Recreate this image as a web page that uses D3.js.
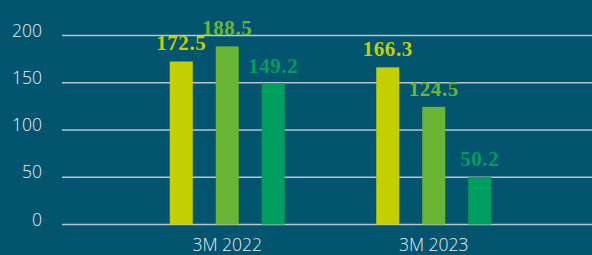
<!DOCTYPE html>
<html>
<head>
<meta charset="utf-8">
<script src="https://cdn.jsdelivr.net/npm/d3@7"></script>
<style>
  html, body { margin: 0; padding: 0; background: #02546f; }
  svg { display: block; }
</style>
</head>
<body>
<div id="chart"></div>
<script>
var width = 592,
    height = 255;

// data
var categories = ["3M 2022", "3M 2023"];
var series = ["a", "b", "c"];
var values = [
  [172.5, 188.5, 149.2],
  [166.3, 124.5, 50.2]
];
var yTicks = [0, 50, 100, 150, 200];
var colors = ["#c3cf00", "#6ab533", "#009e5e"];

var svg = d3.select("#chart").append("svg")
    .attr("width", width)
    .attr("height", height)
    .style("background", "#02546f");

var y = d3.scaleLinear().domain([0, 200]).range([224.5, 35.5]);

var x0 = d3.scaleBand().domain(categories).range([124, 537]);
var x1 = d3.scaleBand().domain(series).range([-69, 69]).paddingInner(0.5).paddingOuter(0.25);

// gridlines
svg.append("g")
  .selectAll("line")
  .data(yTicks)
  .join("line")
    .attr("x1", 62)
    .attr("x2", width)
    .attr("y1", d => y(d))
    .attr("y2", d => y(d))
    .attr("stroke", "#b9c6ce")
    .attr("stroke-width", 1.5);

// y labels
svg.append("g")
  .selectAll("text")
  .data(yTicks)
  .join("text")
    .attr("x", 42)
    .attr("y", d => y(d) + 1)
    .attr("text-anchor", "end")
    .attr("fill", "#e9f0f3")
    .attr("font-family", "'Open Sans', sans-serif")
    .attr("font-weight", 300)
    .attr("font-size", 17.5)
    .text(d => d);

// bars
var group = svg.append("g")
  .selectAll("g")
  .data(categories)
  .join("g")
    .attr("transform", d => "translate(" + (x0(d) + x0.bandwidth() / 2) + ",0)");

group.selectAll("rect")
  .data((d, i) => values[i].map((v, j) => ({key: series[j], v: v, j: j})))
  .join("rect")
    .attr("x", d => x1(d.key))
    .attr("width", x1.bandwidth())
    .attr("y", d => y(d.v))
    .attr("height", d => y(0) - y(d.v))
    .attr("fill", d => colors[d.j]);

group.selectAll("text")
  .data((d, i) => values[i].map((v, j) => ({key: series[j], v: v, j: j})))
  .join("text")
    .attr("x", d => x1(d.key) + x1.bandwidth() / 2)
    .attr("y", d => y(d.v) - 11)
    .attr("text-anchor", "middle")
    .attr("fill", d => colors[d.j])
    .attr("font-family", "'Liberation Serif', 'DejaVu Serif', serif")
    .attr("font-weight", "bold")
    .attr("font-size", 21)
    .attr("letter-spacing", 0.6)
    .text(d => d.v.toFixed(1));

// category labels
svg.append("g")
  .selectAll("text")
  .data(categories)
  .join("text")
    .attr("x", d => x0(d) + x0.bandwidth() / 2)
    .attr("y", 251)
    .attr("text-anchor", "middle")
    .attr("fill", "#e9f0f3")
    .attr("font-family", "'Open Sans', sans-serif")
    .attr("font-weight", 300)
    .attr("font-size", 17.5)
    .text(d => d);
</script>
</body>
</html>
